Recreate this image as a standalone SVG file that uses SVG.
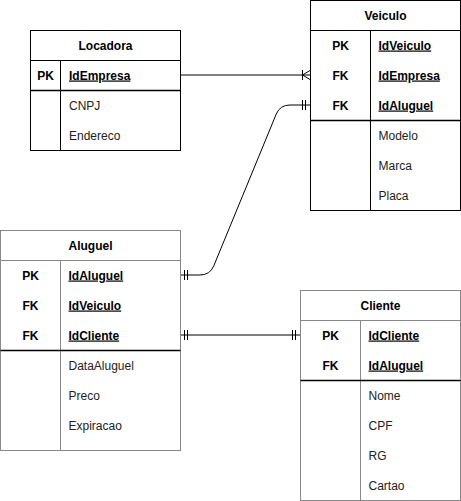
<svg xmlns="http://www.w3.org/2000/svg" width="461" height="501" viewBox="0 0 461 501">
<style>
text{font-family:"Liberation Sans",Arial,sans-serif;font-size:12px;fill:#000}
.h{font-weight:bold;text-anchor:middle}
.k{font-weight:bold;text-anchor:middle}
.kf{font-weight:bold;text-decoration:underline}
.f{fill:#222}
.box{fill:#fff;stroke:#000;stroke-width:1}
.ln{stroke:#000;stroke-width:1;fill:none}
.gbox{fill:#fff;stroke:#888;stroke-width:1}
.gln{stroke:#888;stroke-width:1;fill:none}
.sep{stroke:#000;stroke-width:1.3;fill:none}
.e{stroke:#000;stroke-width:1;fill:none}
</style>
<rect width="461" height="501" fill="#fff"/>

<g id="connectors">
  <!-- Locadora -> Veiculo (one to many) -->
  <path class="e" d="M180.5,75 L310,75"/>
  <path class="e" d="M302.5,70 L302.5,80 M302.5,75 L310,70.5 M302.5,75 L310,79.5"/>
  <!-- Aluguel -> Veiculo (one to one) -->
  <path class="e" d="M180.5,275 L200,275 Q210,275 213.8,265.8 L276.2,114.2 Q280,105 290,105 L310,105"/>
  <path class="e" d="M184.5,270 L184.5,280 M187.5,270 L187.5,280 M302.5,100 L302.5,110 M305.5,100 L305.5,110"/>
  <!-- Aluguel -> Cliente (one to one) -->
  <path class="e" d="M180.5,335 L300,335"/>
  <path class="e" d="M184.5,330 L184.5,340 M187.5,330 L187.5,340 M292.5,330 L292.5,340 M295.5,330 L295.5,340"/>
</g>

<g id="locadora">
  <rect class="box" x="30.5" y="30.5" width="150" height="120"/>
  <path class="ln" d="M30.5,60.5 H180.5 M60.5,60.5 V150.5"/>
  <path class="sep" d="M30.5,90.5 H180.5"/>
  <text class="h" x="105.5" y="49.5">Locadora</text>
  <text class="k" x="45.5" y="79.5">PK</text>
  <text class="kf" x="69" y="79.5">IdEmpresa</text>
  <text class="f" x="69" y="109.5">CNPJ</text>
  <text class="f" x="69" y="139.5">Endereco</text>
</g>

<g id="veiculo">
  <rect class="box" x="310.5" y="0.5" width="150" height="210"/>
  <path class="ln" d="M310.5,30.5 H460.5 M370.5,30.5 V210.5"/>
  <path class="sep" d="M310.5,120.5 H460.5"/>
  <text class="h" x="385.5" y="19.5">Veiculo</text>
  <text class="k" x="340.5" y="49.5">PK</text>
  <text class="kf" x="378.5" y="49.5">IdVeiculo</text>
  <text class="k" x="340.5" y="79.5">FK</text>
  <text class="kf" x="378.5" y="79.5">IdEmpresa</text>
  <text class="k" x="340.5" y="109.5">FK</text>
  <text class="kf" x="378.5" y="109.5">IdAluguel</text>
  <text class="f" x="378.5" y="139.5">Modelo</text>
  <text class="f" x="378.5" y="169.5">Marca</text>
  <text class="f" x="378.5" y="199.5">Placa</text>
</g>

<g id="aluguel">
  <rect class="gbox" x="0.5" y="230.5" width="180" height="220"/>
  <path class="gln" d="M0.5,260.5 H180.5 M60.5,260.5 V450.5"/>
  <path class="sep" d="M0.5,350.5 H180.5"/>
  <text class="h" x="90.5" y="249.5">Aluguel</text>
  <text class="k" x="30.5" y="279.5">PK</text>
  <text class="kf" x="68.5" y="279.5">IdAluguel</text>
  <text class="k" x="30.5" y="309.5">FK</text>
  <text class="kf" x="68.5" y="309.5">IdVeiculo</text>
  <text class="k" x="30.5" y="339.5">FK</text>
  <text class="kf" x="68.5" y="339.5">IdCliente</text>
  <text class="f" x="68.5" y="369.5">DataAluguel</text>
  <text class="f" x="68.5" y="399.5">Preco</text>
  <text class="f" x="68.5" y="429.5">Expiracao</text>
</g>

<g id="cliente">
  <rect class="gbox" x="300.5" y="290.5" width="160" height="210"/>
  <path class="gln" d="M300.5,320.5 H460.5 M360.5,320.5 V500.5"/>
  <path class="sep" d="M300.5,380.5 H460.5"/>
  <text class="h" x="380.5" y="309.5">Cliente</text>
  <text class="k" x="330.5" y="339.5">PK</text>
  <text class="kf" x="368.5" y="339.5">IdCliente</text>
  <text class="k" x="330.5" y="369.5">FK</text>
  <text class="kf" x="368.5" y="369.5">IdAluguel</text>
  <text class="f" x="368.5" y="399.5">Nome</text>
  <text class="f" x="368.5" y="429.5">CPF</text>
  <text class="f" x="368.5" y="459.5">RG</text>
  <text class="f" x="368.5" y="489.5">Cartao</text>
</g>
</svg>
